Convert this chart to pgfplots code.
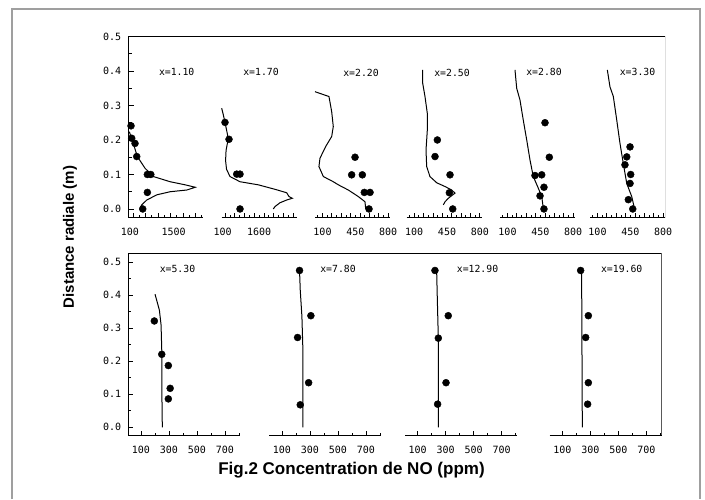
\documentclass[border=0pt]{standalone}
\usepackage{fontspec}
\setmainfont{Liberation Sans}
\newfontfamily\monof{DejaVu Sans Mono}
\usepackage{pgfplots}
\pgfplotsset{compat=1.18}

\newcommand{\tickf}{\monof\fontsize{10}{12}\selectfont}
\newcommand{\labf}{\monof\fontsize{9.8}{12}\selectfont}

\pgfplotsset{
  sub/.style={scale only axis, anchor=south west, axis x line*=bottom, axis y line=none,
    clip=false, tick align=inside, major tick length=5pt, minor tick length=2.5pt,
    tick style={black, line width=0.8pt}, axis line style={line width=1pt},
    xticklabel style={font=\tickf, inner sep=0pt, anchor=north, yshift=-10pt}},
  topsub/.style={sub, width=75pt, height=181.1pt, ymin=-0.025, ymax=0.5,
    major tick length=0pt, extra x tick labels={},
    extra x tick style={major tick length=5pt}},
  botsub/.style={sub, width=112pt, height=182.4pt, ymin=-0.0255, ymax=0.527,
    xmin=10, xmax=810, xtick={100,300,500,700}, xticklabels={100,300,500,700},
    minor xtick={200,400,600,800}},
  frame/.style={scale only axis, anchor=south west, xmin=0, xmax=1,
    axis y line*=left, axis x line=none, axis line style={line width=1pt},
    ytick={0,0.1,0.2,0.3,0.4,0.5}, yticklabels={0.0,0.1,0.2,0.3,0.4,0.5},
    minor ytick={0.05,0.15,0.25,0.35,0.45}, tick align=inside,
    major tick length=6pt, minor tick length=3.5pt, tick style={black, line width=0.8pt},
    yticklabel style={font=\tickf, inner sep=0pt, anchor=east, xshift=-7pt}},
  dots/.style={only marks, mark=*, mark size=3.5pt, black},
  curve/.style={no marks, black, line width=1pt},
}

\begin{document}
\begin{tikzpicture}[x=1pt, y=1pt]
\useasboundingbox (0,0) rectangle (705,499);
\draw[gray!75, line width=1.4pt] (12,0) -- (12,490) -- (700,490) -- (700,0);

% ---- top row frame ----
\begin{axis}[frame, at={(128.3pt,281.4pt)}, width=536.7pt, height=181.1pt,
  ymin=-0.025, ymax=0.5]
\draw[line width=1pt] (rel axis cs:0,1) -- (rel axis cs:1,1) -- (rel axis cs:1,0);
\end{axis}

% x=1.10
\begin{axis}[topsub, at={(128.3pt,281.4pt)}, xmin=50, xmax=2450,
  xtick={100,1500}, xticklabels={100,1500},
  minor xtick={400,800,...,2400}, extra x ticks={200,600,...,2200}]
\addplot[curve] coordinates {(82,0.224)(210,0.190)(339,0.152)(586,0.118)(853,0.094)
  (1389,0.079)(1870,0.070)(2191,0.063)(1925,0.055)(1389,0.050)(962,0.041)
  (641,0.026)(480,0.012)(426,0.002)};
\addplot[dots] coordinates {(137,0.241)(159,0.205)(265,0.190)(320,0.152)
  (660,0.100)(770,0.100)(660,0.048)(512,0.0)};
\end{axis}

% x=1.70
\begin{axis}[topsub, at={(221.7pt,281.4pt)}, xmin=60, xmax=3150,
  xtick={100,1600}, xticklabels={100,1600},
  minor xtick={400,800,...,2800}, extra x ticks={200,600,...,3000}]
\addplot[curve] coordinates {(60,0.292)(130,0.272)(200,0.250)(300,0.215)(320,0.200)
  (240,0.170)(220,0.140)(260,0.115)(402,0.094)(814,0.079)(1568,0.070)(2256,0.057)
  (2738,0.047)(2833,0.036)(2969,0.031)(2738,0.026)(2460,0.018)(2256,0.007)(2186,0.0)};
\addplot[dots] coordinates {(196,0.251)(361,0.202)(678,0.101)(814,0.101)(814,0.0)};
\end{axis}

% x=2.20
\begin{axis}[topsub, at={(315pt,281.4pt)}, xmin=20, xmax=820,
  xtick={100,450,800}, xticklabels={100,450,800},
  minor xtick={50,150,...,750}, extra x ticks={100,200,...,800}]
\addplot[curve] coordinates {(20,0.340)(169,0.326)(198,0.282)(215,0.239)(198,0.210)
  (134,0.181)(73,0.147)(62,0.123)(109,0.094)(215,0.079)(269,0.070)(375,0.055)
  (482,0.036)(553,0.021)(561,0.0)};
\addplot[dots] coordinates {(447,0.150)(411,0.099)(525,0.099)(546,0.048)(607,0.048)(596,0.0)};
\end{axis}

% x=2.50
\begin{axis}[topsub, at={(406.7pt,281.4pt)}, xmin=20, xmax=820,
  xtick={100,450,800}, xticklabels={100,450,800},
  minor xtick={50,150,...,750}, extra x ticks={100,200,...,800}]
\addplot[curve] coordinates {(191,0.403)(191,0.364)(215,0.326)(240,0.277)(240,0.229)
  (226,0.171)(233,0.123)(268,0.094)(340,0.076)(429,0.065)(500,0.055)(535,0.046)
  (464,0.031)(429,0.021)(411,0.012)};
\addplot[dots] coordinates {(347,0.200)(322,0.152)(482,0.099)(475,0.047)(511,0.0)};
\end{axis}

% x=2.80
\begin{axis}[topsub, at={(500pt,281.4pt)}, xmin=20, xmax=820,
  xtick={100,450,800}, xticklabels={100,450,800},
  minor xtick={50,150,...,750}, extra x ticks={100,200,...,800}]
\addplot[curve] coordinates {(180,0.403)(198,0.350)(233,0.316)(268,0.258)(305,0.200)
  (340,0.142)(375,0.094)(429,0.060)(465,0.036)(482,0.002)};
\addplot[dots] coordinates {(500,0.250)(546,0.150)(393,0.097)(465,0.099)(489,0.063)
  (447,0.038)(489,0.0)};
\end{axis}

% x=3.30
\begin{axis}[topsub, at={(590pt,281.4pt)}, xmin=20, xmax=820,
  xtick={100,450,800}, xticklabels={100,450,800},
  minor xtick={50,150,...,750}, extra x ticks={100,200,...,800}]
\addplot[curve] coordinates {(205,0.403)(233,0.354)(269,0.326)(305,0.258)(340,0.190)
  (375,0.132)(412,0.074)(465,0.036)(490,0.007)};
\addplot[dots] coordinates {(447,0.180)(412,0.151)(393,0.128)(454,0.100)(447,0.074)
  (429,0.027)(476,0.0)};
\end{axis}

% ---- bottom row frame ----
\begin{axis}[frame, at={(128.3pt,63.3pt)}, width=533.4pt, height=182.4pt,
  ymin=-0.0255, ymax=0.527, major tick length=5pt, minor tick length=3pt]
\draw[line width=1pt] (rel axis cs:0,1) -- (rel axis cs:1,1) -- (rel axis cs:1,0);
\end{axis}

% x=5.30
\begin{axis}[botsub, at={(128.3pt,63.3pt)}]
\addplot[curve] coordinates {(201,0.403)(232,0.355)(244,0.310)(249,0.234)(249,0.133)(253,0.0)};
\addplot[dots] coordinates {(196,0.322)(249,0.221)(296,0.187)(309,0.118)(296,0.086)};
\end{axis}

% x=7.80
\begin{axis}[botsub, at={(269.3pt,63.3pt)}]
\addplot[curve] coordinates {(226,0.475)(231,0.416)(243,0.335)(250,0.234)(250,0.0)};
\addplot[dots] coordinates {(226,0.475)(307,0.338)(212,0.272)(291,0.135)(231,0.068)};
\end{axis}

% x=12.90
\begin{axis}[botsub, at={(405pt,63.3pt)}]
\addplot[curve] coordinates {(236,0.475)(241,0.386)(248,0.270)(248,0.0)};
\addplot[dots] coordinates {(224,0.475)(319,0.338)(248,0.270)(303,0.135)(243,0.070)};
\end{axis}

% x=19.60
\begin{axis}[botsub, at={(549.7pt,63.3pt)}]
\addplot[curve] coordinates {(238,0.475)(243,0.0)};
\addplot[dots] coordinates {(231,0.475)(286,0.338)(267,0.272)(286,0.135)(281,0.070)};
\end{axis}

% panel labels
\node[font=\labf] at (176.7,427.3) {x=1.10};
\node[font=\labf] at (261,427.3) {x=1.70};
\node[font=\labf] at (361,426.5) {x=2.20};
\node[font=\labf] at (452,426.5) {x=2.50};
\node[font=\labf] at (544,427) {x=2.80};
\node[font=\labf] at (637.5,427) {x=3.30};
\node[font=\labf] at (177.5,229.7) {x=5.30};
\node[font=\labf] at (338,229.7) {x=7.80};
\node[font=\labf] at (477.5,229.7) {x=12.90};
\node[font=\labf] at (621.7,229.7) {x=19.60};

% axis titles
\node[rotate=90, font=\bfseries\fontsize{15}{18}\selectfont] at (70,262) {Distance radiale (m)};
\node[font=\bfseries\fontsize{17}{20}\selectfont] at (351.5,29) {Fig.2 Concentration de NO (ppm)};
\end{tikzpicture}
\end{document}
